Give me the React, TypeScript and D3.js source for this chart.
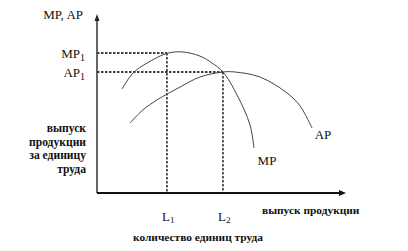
import React from "react";
import * as d3 from "d3";

const mpX = [1.01, 1.45, 2.02, 2.82, 3.43, 4.15, 4.64, 5.08, 5.65, 6.17, 6.33];
const mpY = [5.81, 6.7, 7.26, 7.8, 7.88, 7.65, 7.26, 6.76, 5.47, 3.8, 2.51];
const apX = [1.33, 1.85, 2.42, 3.35, 4.15, 5.08, 5.56, 6.57, 7.66, 8.19, 8.67];
const apY = [3.91, 4.64, 5.2, 5.92, 6.48, 6.76, 6.76, 6.48, 5.59, 4.86, 3.63];
const L1 = 2.82;
const L2 = 5.08;
const MP1 = 7.82;
const AP1 = 6.76;
const yAxisLines = ["выпуск", "продукции", "за единицу", "труда"];

const serif = "Liberation Serif, DejaVu Serif, serif";
const T = (p: any) => <text {...p} style={{ fontFamily: serif }} fill="#111" />;

export default function App() {
  const x = d3.scaleLinear().domain([0, 10]).range([97, 345]);
  const y = d3.scaleLinear().domain([0, 10]).range([193, 14]);
  const line = d3
    .line<[number, number]>()
    .x((d) => x(d[0]))
    .y((d) => y(d[1]))
    .curve(d3.curveCatmullRom.alpha(0.5));
  const mp = mpX.map((v, i) => [v, mpY[i]] as [number, number]);
  const ap = apX.map((v, i) => [v, apY[i]] as [number, number]);
  const x0 = x(0);
  const y0 = y(0);
  const dash = "2.5,1.5";
  return (
    <svg
      width={408}
      height={251}
      style={{ position: "absolute", left: 0, top: 0, background: "#fff" }}
    >
      <g stroke="#000" strokeWidth={1.3} strokeDasharray={dash} fill="none">
        <line x1={x0} y1={y(MP1)} x2={x(L1)} y2={y(MP1)} />
        <line x1={x(L1)} y1={y(MP1)} x2={x(L1)} y2={y0} />
        <line x1={x0} y1={y(AP1)} x2={x(L2)} y2={y(AP1)} />
        <line x1={x(L2)} y1={y(AP1)} x2={x(L2)} y2={y0} />
      </g>
      <path d={line(mp) || ""} fill="none" stroke="#444" strokeWidth={1} />
      <path d={line(ap) || ""} fill="none" stroke="#444" strokeWidth={1} />
      <line x1={x0} y1={y0} x2={x0} y2={19} stroke="#333" strokeWidth={1.5} />
      <path d={`M${x0 - 2.5},${21} L${x0},${14} L${x0 + 2.5},${21} Z`} fill="#222" />
      <line x1={x0} y1={y0} x2={340} y2={y0} stroke="#111" strokeWidth={2} />
      <path d={`M${339},${y0 - 3} L${346},${y0} L${339},${y0 + 3} Z`} fill="#111" />
      <T x={83} y={19} fontSize={13} textAnchor="end">MP, AP</T>
      <T x={85} y={58} fontSize={13} textAnchor="end">
        MP<tspan fontSize={10} dy={3}>1</tspan>
      </T>
      <T x={85} y={77} fontSize={13} textAnchor="end">
        AP<tspan fontSize={10} dy={3}>1</tspan>
      </T>
      {yAxisLines.map((t, i) => (
        <T key={t} x={86} y={132 + i * 13.7} fontSize={11.6} fontWeight="bold" textAnchor="end">
          {t}
        </T>
      ))}
      <T x={x(L1) - 5} y={221} fontSize={13}>
        L<tspan fontSize={9} dy={2}>1</tspan>
      </T>
      <T x={x(L2) - 5} y={221} fontSize={13}>
        L<tspan fontSize={9} dy={2}>2</tspan>
      </T>
      <T x={262} y={214} fontSize={11.4} fontWeight="bold">выпуск продукции</T>
      <T x={133} y={241} fontSize={11.4} fontWeight="bold">количество единиц труда</T>
      <T x={267} y={165} fontSize={13} textAnchor="middle">MP</T>
      <T x={323} y={139} fontSize={13} textAnchor="middle">AP</T>
    </svg>
  );
}
